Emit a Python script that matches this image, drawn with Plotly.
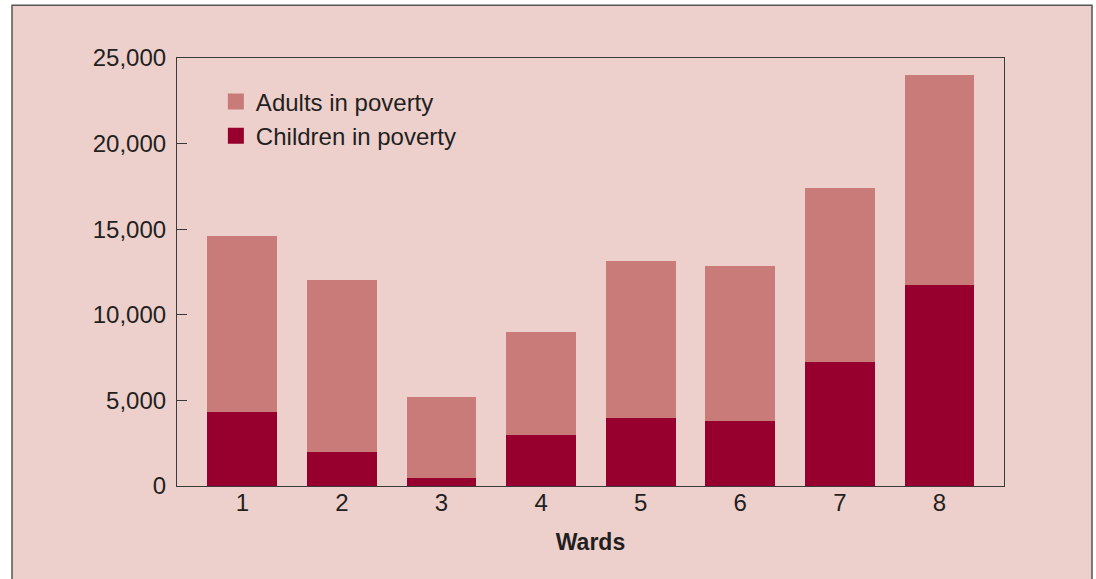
import plotly.graph_objects as go

wards = [1, 2, 3, 4, 5, 6, 7, 8]
children = [4300, 2000, 450, 2970, 4000, 3800, 7250, 11750]
totals = [14600, 12050, 5200, 9000, 13150, 12850, 17400, 24000]
adults = [t - c for t, c in zip(totals, children)]
ytick_vals = [0, 5000, 10000, 15000, 20000, 25000]

BG = "#EDD0CC"
ADULT = "#C87B79"
CHILD = "#97002E"
TXT = "#231F20"
FONT = "Liberation Sans, Arial, sans-serif"

fig = go.Figure()
fig.add_trace(go.Bar(x=wards, y=children, name="Children in poverty", showlegend=False,
                     marker=dict(color=CHILD, line=dict(width=0)), width=0.70))
fig.add_trace(go.Bar(x=wards, y=adults, name="Adults in poverty", showlegend=False,
                     marker=dict(color=ADULT, line=dict(width=0)), width=0.70))
# legend entries (square swatches)
fig.add_trace(go.Scatter(x=[None], y=[None], mode="markers", name="Adults in poverty",
                         legendgroup="a",
                         marker=dict(symbol="square", size=17, color=ADULT, line=dict(width=0))))
fig.add_trace(go.Scatter(x=[None], y=[None], mode="markers", name="Children in poverty",
                         legendgroup="c",
                         marker=dict(symbol="square", size=17, color=CHILD, line=dict(width=0))))

fig.update_layout(
    width=1096, height=579,
    barmode="stack",
    paper_bgcolor="white",
    plot_bgcolor=BG,
    margin=dict(l=177, r=92, t=58, b=93),
    font=dict(family=FONT, size=24, color=TXT),
    showlegend=True,
    legend=dict(x=0.047, y=0.95, xanchor="left", yanchor="top",
                bgcolor="rgba(0,0,0,0)", font=dict(size=24, color=TXT),
                traceorder="normal", tracegroupgap=5, itemsizing="trace"),
    shapes=[dict(type="rect", xref="paper", yref="paper",
                 x0=-0.1995, x1=1.1064, y0=-0.3, y1=1.123,
                 fillcolor=BG, line=dict(color="#555555", width=1.5),
                 layer="below")],
    xaxis=dict(range=[0.344, 8.648], tickvals=wards, ticktext=[str(w) for w in wards],
               showline=True, mirror=True, linecolor="#3a3a3a", linewidth=1.2,
               ticks="", showgrid=False, zeroline=False, ticklabelstandoff=-5,
               title=dict(text="<b>Wards</b>", font=dict(size=23, color=TXT), standoff=18),
               tickfont=dict(size=24, color=TXT)),
    yaxis=dict(range=[0, 25000], tickvals=ytick_vals, tickformat=",",
               showline=True, mirror=True, linecolor="#3a3a3a", linewidth=1.2,
               ticks="inside", ticklen=10, tickcolor="#3a3a3a", tickwidth=1.2,
               showgrid=False, zeroline=False, ticklabelstandoff=5,
               tickfont=dict(size=24, color=TXT)),
)

fig.write_html("out.html")
